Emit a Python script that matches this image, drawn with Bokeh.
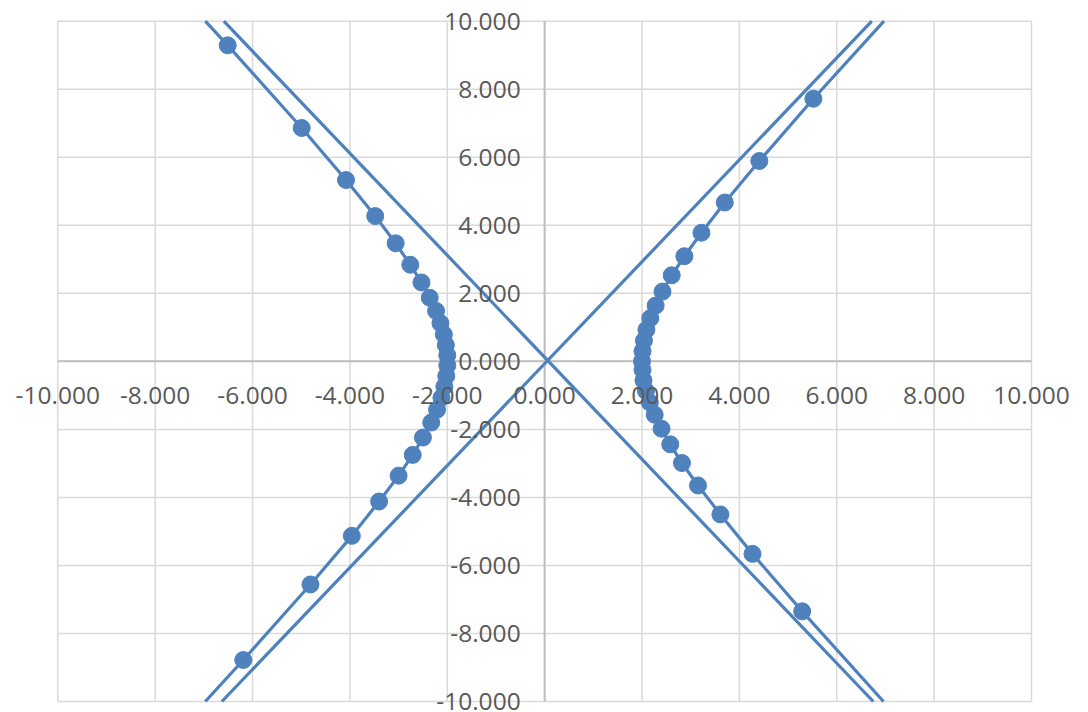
from bokeh.plotting import figure
from bokeh.models import Range1d, LinearAxis, FixedTicker, PrintfTickFormatter
from bokeh.embed import file_html
from bokeh.resources import INLINE

# ---- data ----
tick_values = [-10, -8, -6, -4, -2, 0, 2, 4, 6, 8, 10]

# right branch, upper half (from vertex upward)
right_upper_x = [2.00, 2.01, 2.04, 2.09, 2.17, 2.28, 2.42, 2.61, 2.87, 3.22, 3.70, 4.41, 5.52]
right_upper_y = [0.00, 0.30, 0.61, 0.93, 1.27, 1.64, 2.05, 2.53, 3.09, 3.78, 4.67, 5.89, 7.72]

# left branch (from bottom to top)
left_x = [-6.19, -4.81, -3.96, -3.40, -3.00, -2.71, -2.50, -2.33, -2.21, -2.12, -2.06, -2.02, -2.00,
          -2.00, -2.03, -2.07, -2.14, -2.23, -2.36, -2.53, -2.76, -3.06, -3.48, -4.08, -4.99, -6.51]
left_y = [-8.78, -6.56, -5.13, -4.12, -3.36, -2.75, -2.24, -1.80, -1.42, -1.07, -0.74, -0.43, -0.12,
          0.18, 0.48, 0.79, 1.12, 1.48, 1.87, 2.32, 2.84, 3.47, 4.27, 5.33, 6.86, 9.29]

# right branch, lower half (from bottom up to vertex)
right_lower_x = [5.29, 4.27, 3.61, 3.15, 2.82, 2.58, 2.40, 2.26, 2.16, 2.08, 2.03, 2.01]
right_lower_y = [-7.35, -5.66, -4.50, -3.65, -2.99, -2.44, -1.98, -1.57, -1.21, -0.87, -0.56, -0.25]

# points where the connecting line crosses the plot-area edge
right_upper_exit = (6.97, 10.0)
diag1_x = [6.72, -6.63]
diag1_y = [10.0, -10.0]
left_entry = (-6.97, -10.0)
left_exit = (-6.97, 10.0)
diag2_x = [-6.59, 6.75]
diag2_y = [10.0, -10.0]
right_lower_entry = (6.96, -10.0)

axis_min, axis_max = -10, 10

nan = float("nan")
path_x = (right_upper_x + [right_upper_exit[0], nan] + diag1_x + [nan, left_entry[0]] + left_x +
          [left_exit[0], nan] + diag2_x + [nan, right_lower_entry[0]] + right_lower_x)
path_y = (right_upper_y + [right_upper_exit[1], nan] + diag1_y + [nan, left_entry[1]] + left_y +
          [left_exit[1], nan] + diag2_y + [nan, right_lower_entry[1]] + right_lower_y)

pts_x = right_upper_x + left_x + right_lower_x
pts_y = right_upper_y + left_y + right_lower_y

BLUE = "#4F81BD"
GRID = "#D9D9D9"
AXIS = "#BFBFBF"
LABEL = "#595959"
FONT = "Open Sans"

W, H = 1080, 712
# plot area edges (px) of the reference: left 57.3, right 1031, top 20.7, bottom 701
px_per_x = (1031 - 57.3) / (axis_max - axis_min)
px_per_y = (701 - 20.7) / (axis_max - axis_min)
x_lo = axis_min - 57.3 / px_per_x
x_hi = axis_max + (W - 1031) / px_per_x
y_hi = axis_max + 20.7 / px_per_y
y_lo = axis_min - (H - 701) / px_per_y

p = figure(width=W, height=H, output_backend="svg", toolbar_location=None,
           x_range=Range1d(x_lo, x_hi), y_range=Range1d(y_lo, y_hi),
           x_axis_location=None, y_axis_location=None,
           min_border_left=0, min_border_right=0, min_border_top=0, min_border_bottom=0)
p.outline_line_color = None
p.background_fill_color = "white"
p.border_fill_color = "white"
p.xgrid.visible = False
p.ygrid.visible = False

# gridlines (bounded to the plot area)
p.segment(x0=tick_values, y0=[axis_min] * len(tick_values), x1=tick_values, y1=[axis_max] * len(tick_values),
          line_color=GRID, line_width=1.5)
p.segment(x0=[axis_min] * len(tick_values), y0=tick_values, x1=[axis_max] * len(tick_values), y1=tick_values,
          line_color=GRID, line_width=1.5)
# axis lines through the origin
p.segment(x0=[0, axis_min], y0=[axis_min, 0], x1=[0, axis_max], y1=[axis_max, 0],
          line_color=AXIS, line_width=2)

ticker = FixedTicker(ticks=tick_values)
xaxis = LinearAxis(ticker=ticker, formatter=PrintfTickFormatter(format="%.3f"), fixed_location=0,
                   bounds=(axis_min, axis_max))
yaxis = LinearAxis(ticker=ticker, formatter=PrintfTickFormatter(format="%.3f"), fixed_location=0,
                   bounds=(axis_min, axis_max))
for ax in (xaxis, yaxis):
    ax.axis_line_color = None
    ax.major_tick_line_color = None
    ax.minor_tick_line_color = None
    ax.major_tick_out = 0
    ax.major_tick_in = 0
    ax.major_label_text_font = FONT
    ax.major_label_text_font_size = "24.5px"
    ax.major_label_text_color = LABEL
xaxis.major_label_standoff = 26
yaxis.major_label_standoff = 24
p.add_layout(xaxis, "below")
p.add_layout(yaxis, "left")

p.line(path_x, path_y, line_color=BLUE, line_width=3.2)
p.scatter(pts_x, pts_y, marker="circle", size=17, fill_color=BLUE, line_color=BLUE)

open("out.html", "w").write(file_html(p, INLINE))
